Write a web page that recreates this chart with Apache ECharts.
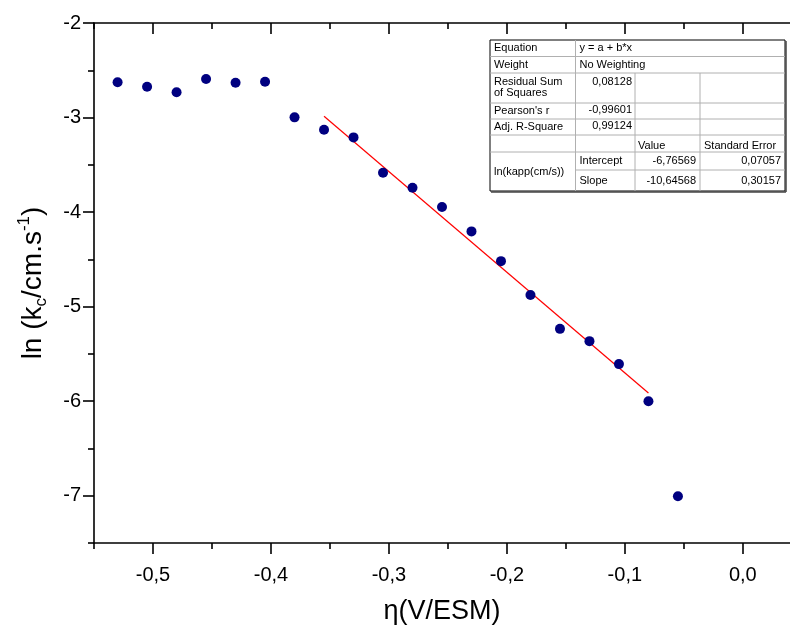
<!DOCTYPE html>
<html>
<head>
<meta charset="utf-8">
<script src="https://cdn.jsdelivr.net/npm/echarts@6/dist/echarts.min.js"></script>
<style>
html,body{margin:0;padding:0;background:#fff;}
#chart{width:790px;height:629px;}
</style>
</head>
<body>
<div id="chart"></div>
<script>
// ---- data ----
var etaValues = [-0.53,-0.505,-0.48,-0.455,-0.43,-0.405,-0.38,-0.355,-0.33,-0.305,-0.28,-0.255,-0.23,-0.205,-0.18,-0.155,-0.13,-0.105,-0.08,-0.055];
var lnKValues = [-2.627,-2.674,-2.733,-2.593,-2.632,-2.621,-2.998,-3.129,-3.21,-3.584,-3.743,-3.947,-4.204,-4.519,-4.876,-5.235,-5.365,-5.608,-6.0,-7.005];
var fitEta = [-0.355, -0.08];
var fitLnK = [-2.986, -5.914];
var xMajorTicks = [-0.5,-0.4,-0.3,-0.2,-0.1,0.0];
var xMinorTicks = [-0.55,-0.45,-0.35,-0.25,-0.15,-0.05];
var yMajorTicks = [-7,-6,-5,-4,-3,-2];
var yMinorTicks = [-7.5,-6.5,-5.5,-4.5,-3.5,-2.5];
var xRange = [-0.55, 0.04];
var yRange = [-7.5, -2];
var tableRows = [
  ['Equation', 'y = a + b*x'],
  ['Weight', 'No Weighting'],
  ['Residual Sum\nof Squares', '0,08128'],
  ["Pearson's r", '-0,99601'],
  ['Adj. R-Square', '0,99124'],
  ['', '', 'Value', 'Standard Error'],
  ['ln(kapp(cm/s))', 'Intercept', '-6,76569', '0,07057'],
  ['', 'Slope', '-10,64568', '0,30157']
];

var FONT = 'Liberation Sans, Arial, sans-serif';
function fmtX(v){ return (Math.abs(v) < 1e-9 ? 0 : v).toFixed(1).replace('.', ','); }

var points = etaValues.map(function(x,i){ return [x, lnKValues[i]]; });
var fitLine = fitEta.map(function(x,i){ return [x, fitLnK[i]]; });

// ---- table graphic ----
var T = {x0:490, x1:575.5, x2:635, x3:700, x4:785, rows:[40,56.5,73,103,119,135,152,170,191]};
var g = [];
var lineGray = '#b0b0b0';
function hline(y, xa, xb){ g.push({type:'line', shape:{x1:xa,y1:y,x2:xb,y2:y}, style:{stroke:lineGray, lineWidth:1}}); }
function vline(x, ya, yb){ g.push({type:'line', shape:{x1:x,y1:ya,x2:x,y2:yb}, style:{stroke:lineGray, lineWidth:1}}); }
g.push({type:'rect', shape:{x:T.x0, y:T.rows[0], width:T.x4-T.x0, height:T.rows[8]-T.rows[0]}, style:{fill:'#fff', stroke:'#000', lineWidth:1}});
for (var r=1; r<8; r++){
  if (r === 7) hline(T.rows[r], T.x1, T.x4); else hline(T.rows[r], T.x0, T.x4);
}
vline(T.x1, T.rows[0], T.rows[8]);
vline(T.x2, T.rows[2], T.rows[8]);
vline(T.x3, T.rows[2], T.rows[8]);
// shadow
g.push({type:'line', shape:{x1:T.x4+1,y1:T.rows[0]+1,x2:T.x4+1,y2:T.rows[8]+1}, style:{stroke:'#444', lineWidth:1.5}});
g.push({type:'line', shape:{x1:T.x0+1,y1:T.rows[8]+1,x2:T.x4+1,y2:T.rows[8]+1}, style:{stroke:'#444', lineWidth:1.5}});
function txt(s, x, y, align, vAlign){
  g.push({type:'text', x:x, y:y, style:{text:s, font:'11px ' + FONT, fill:'#000', align:align||'left', verticalAlign:vAlign||'middle', lineHeight:11}});
}
function rowMid(r){ return (T.rows[r] + T.rows[r+1]) / 2; }
txt(tableRows[0][0], T.x0+4, rowMid(0));
txt(tableRows[0][1], T.x1+4, rowMid(0));
txt(tableRows[1][0], T.x0+4, rowMid(1));
txt(tableRows[1][1], T.x1+4, rowMid(1));
txt(tableRows[2][0], T.x0+4, T.rows[2]+3, 'left', 'top');
txt(tableRows[2][1], T.x2-3, T.rows[2]+3, 'right', 'top');
txt(tableRows[3][0], T.x0+4, rowMid(3));
txt(tableRows[3][1], T.x2-3, rowMid(3)-1, 'right');
txt(tableRows[4][0], T.x0+4, rowMid(4));
txt(tableRows[4][1], T.x2-3, rowMid(4)-1, 'right');
txt(tableRows[5][2], T.x2+3, rowMid(5)+2);
txt(tableRows[5][3], T.x3+4, rowMid(5)+2);
txt(tableRows[6][0], T.x0+4, (T.rows[6]+T.rows[8])/2);
txt(tableRows[6][1], T.x1+4, rowMid(6));
txt(tableRows[6][2], T.x3-4, rowMid(6), 'right');
txt(tableRows[6][3], T.x4-4, rowMid(6), 'right');
txt(tableRows[7][1], T.x1+4, rowMid(7));
txt(tableRows[7][2], T.x3-4, rowMid(7), 'right');
txt(tableRows[7][3], T.x4-4, rowMid(7), 'right');

var axisLineStyle = {color:'#000', width:1.6};

function xAxisDef(pos, ticks, len, inside, showLabel, showLine, name){
  var a = {
    type:'value', position:pos, min:xRange[0], max:xRange[1],
    splitLine:{show:false},
    axisLine:{show:showLine, onZero:false, lineStyle:axisLineStyle},
    axisTick:{show:true, customValues:ticks, length:len, inside:inside, lineStyle:axisLineStyle},
    axisLabel:{show:showLabel, customValues:ticks, formatter:fmtX, fontSize:20, fontFamily:FONT, color:'#000', margin:22}
  };
  if (name){
    a.name = name; a.nameLocation = 'middle'; a.nameGap = 55;
    a.nameTextStyle = {fontSize:27, fontFamily:FONT, color:'#000'};
  }
  return a;
}
function yAxisDef(ticks, len, showLabel, showLine, withName){
  var a = {
    type:'value', position:'left', min:yRange[0], max:yRange[1],
    splitLine:{show:false},
    axisLine:{show:showLine, onZero:false, lineStyle:axisLineStyle},
    axisTick:{show:true, customValues:ticks, length:len, inside:false, lineStyle:axisLineStyle},
    axisLabel:{show:showLabel, customValues:ticks, fontSize:20, fontFamily:FONT, color:'#000', margin:13,
      formatter:function(v){ return String(Math.round(v)); }}
  };
  if (withName){
    a.name = '{a|ln (k}{sub|c}{a|/cm.s}{sup|-1}{a|)}';
    a.nameLocation = 'middle'; a.nameGap = 44;
    a.nameTextStyle = {
      fontSize:28, fontFamily:FONT, color:'#000',
      rich:{
        a:{fontSize:28, fontFamily:FONT, color:'#000', lineHeight:34},
        sub:{fontSize:17, fontFamily:FONT, color:'#000', lineHeight:16, verticalAlign:'bottom'},
        sup:{fontSize:17, fontFamily:FONT, color:'#000', lineHeight:16, verticalAlign:'top'}
      }
    };
  }
  return a;
}

var chart = echarts.init(document.getElementById('chart'), null, {renderer:'canvas'});
chart.setOption({
  animation:false,
  backgroundColor:'#fff',
  grid:{left:94, top:23, right:0, bottom:86, containLabel:false, outerBoundsMode:'none'},
  xAxis:[
    xAxisDef('bottom', xMajorTicks, 11, false, true, true, '\u03b7(V/ESM)'),
    xAxisDef('bottom', xMinorTicks, 6, false, false, false),
    xAxisDef('top', xMajorTicks, 11, true, false, true),
    xAxisDef('top', xMinorTicks, 6, true, false, false)
  ],
  yAxis:[
    yAxisDef(yMajorTicks, 11, true, true, true),
    yAxisDef(yMinorTicks, 6, false, false, false)
  ],
  series:[
    {type:'scatter', xAxisIndex:0, yAxisIndex:0, data:points, symbolSize:10,
     itemStyle:{color:'#000080', opacity:1}, z:3},
    {type:'line', xAxisIndex:0, yAxisIndex:0, data:fitLine, symbol:'none',
     lineStyle:{color:'#ff0000', width:1.2}, z:2}
  ],
  graphic:{elements:g}
});
</script>
</body>
</html>
